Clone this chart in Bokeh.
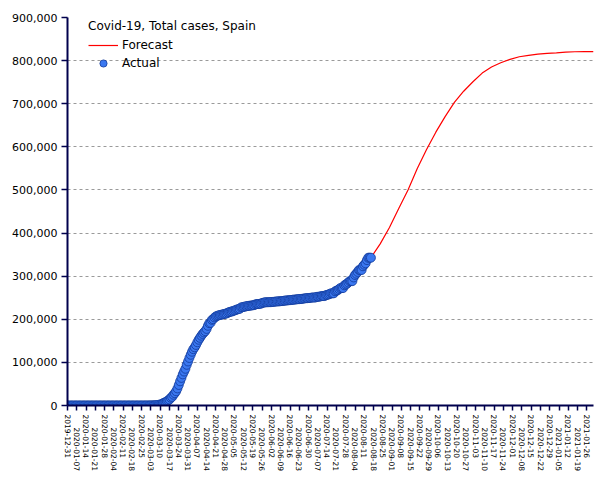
import pandas as pd
from bokeh.plotting import figure
from bokeh.models import (Range1d, FixedTicker, NumeralTickFormatter, Legend, LegendItem,
                          DatetimeAxis)
from bokeh.embed import file_html
from bokeh.resources import INLINE

# ---------------- data ----------------
actual_start = "2019-12-31"
actual_cases = [
    0,
    # January
    0, 0, 0, 0, 0, 0, 0, 0, 0, 0, 0, 0, 0, 0, 0, 0, 0, 0, 0, 0, 0, 0, 0, 0, 0, 0, 0, 0, 0, 0, 0,
    # February
    1, 1, 1, 1, 1, 1, 1, 1, 1, 2, 2, 2, 2, 2, 2, 2, 2, 2, 2, 2, 2, 2, 2, 6, 13, 15, 32, 45, 84,
    # March
    120, 165, 222, 259, 400, 500, 673, 1073, 1695, 2277, 3146, 5232, 6391, 7798, 9942,
    11748, 13910, 17963, 19980, 24926, 28572, 33089, 39673, 47610, 56188, 64059, 72248,
    78797, 85195, 94417, 102136,
    # April
    110238, 117710, 124736, 130759, 135032, 140510, 146690, 152446, 157022, 161852,
    166019, 169496, 172541, 177644, 184948, 190839, 191726, 198674, 200210, 204178,
    206500, 208000, 209000, 209800, 210500, 211300, 212000, 212917, 213435, 215216,
    # May
    216582, 217466, 218011, 219329, 220325, 221447, 222857, 223578, 224350, 227436,
    228030, 228691, 229540, 230183, 230698, 231350, 231606, 232037, 232555, 233037,
    234824, 235290, 235400, 235772, 236259, 237906, 238564, 239228, 239479, 239520, 239580,
    # June
    239638, 239932, 240326, 240660, 240978, 241310, 241550, 241717, 241966, 242280,
    242707, 243209, 243605, 243928, 244109, 244328, 244683, 245268, 245575, 245938,
    246272, 246504, 246752, 247086, 247486, 247905, 248469, 248770, 248970, 249271,
    # July
    249659, 250103, 250545, 250545, 250545, 251789, 252130, 252513, 253056, 253908,
    253908, 253908, 255953, 256619, 257494, 258855, 260255, 260255, 260255, 264836,
    266194, 267551, 270166, 272421, 272421, 272421, 278782, 280610, 282641, 285430, 288522,
    # August
    288522, 288522, 297054, 302814, 305767, 309855, 314362, 314362, 314362, 322980,
    326612, 329784, 337334, 342813, 342813, 342813,
]

forecast_dates = [
    "2020-08-16", "2020-08-23", "2020-08-30", "2020-09-06", "2020-09-13", "2020-09-20",
    "2020-09-27", "2020-10-04", "2020-10-11", "2020-10-18", "2020-10-25", "2020-11-01",
    "2020-11-08", "2020-11-15", "2020-11-22", "2020-11-29", "2020-12-06", "2020-12-13",
    "2020-12-20", "2020-12-27", "2021-01-03", "2021-01-10", "2021-01-17", "2021-01-24",
    "2021-01-31",
]
forecast_cases = [
    342813, 375000, 413000, 457000, 500000, 550000,
    594000, 634000, 670000, 703000, 729000, 751000,
    771000, 785000, 795000, 803000, 809000, 812000,
    815000, 817000, 818000, 819500, 820500, 821000,
    821000,
]

tick_first = "2019-12-31"
tick_last = "2021-01-26"
y_ticks = [0, 100000, 200000, 300000, 400000, 500000, 600000, 700000, 800000, 900000]

title_text = "Covid-19, Total cases, Spain"
series_names = ["Forecast", "Actual"]

# ---------------- derived ----------------
actual_dates = pd.date_range(actual_start, periods=len(actual_cases), freq="D")
fc_dates = pd.to_datetime(forecast_dates)
tick_dates = pd.date_range(tick_first, tick_last, freq="7D")
tick_labels = [d.strftime("%Y-%m-%d") for d in tick_dates]
tick_ms = [int(d.value // 10**6) for d in tick_dates]
odd_ms = tick_ms[1::2]

NAVY = "#00004d"
FONT = "DejaVu Sans"
XFONT = "7.5px"

p = figure(
    width=605, height=480,
    x_axis_type="datetime",
    x_range=Range1d(pd.Timestamp("2019-12-31"), pd.Timestamp("2021-01-31")),
    y_range=Range1d(0, 900000),
    output_backend="svg", toolbar_location=None,
    min_border_left=67, min_border_right=12, min_border_top=17, min_border_bottom=75,
)
p.outline_line_color = None
p.background_fill_color = "white"
p.border_fill_color = "white"

# grid
p.xgrid.visible = False
p.ygrid.grid_line_color = "#9a9a9a"
p.ygrid.grid_line_dash = "3 3"
p.ygrid.grid_line_width = 1
p.ygrid.ticker = FixedTicker(ticks=y_ticks)

# axes
for ax in (p.xaxis[0], p.yaxis[0]):
    ax.axis_line_color = NAVY
    ax.axis_line_width = 2
    ax.major_tick_line_color = NAVY
    ax.major_tick_line_width = 1.5
    ax.major_tick_in = 0
    ax.minor_tick_line_color = None
    ax.major_label_text_color = "black"
    ax.major_label_text_font = FONT

p.yaxis[0].ticker = FixedTicker(ticks=y_ticks)
p.yaxis[0].formatter = NumeralTickFormatter(format="0,0")
p.yaxis[0].major_tick_out = 6
p.yaxis[0].major_label_standoff = 4
p.yaxis[0].major_label_text_font_size = "11px"

# main x axis: all ticks, labels on every other tick
xa = p.xaxis[0]
xa.ticker = FixedTicker(ticks=tick_ms)
xa.major_tick_out = 5
xa.major_label_standoff = 4
xa.major_label_text_font_size = XFONT
xa.major_label_orientation = "vertical"
xa.major_label_overrides = {ms: (lab if i % 2 == 0 else "")
                            for i, (ms, lab) in enumerate(zip(tick_ms, tick_labels))}

# second (staggered) label row for the remaining ticks
xb = DatetimeAxis(
    ticker=FixedTicker(ticks=odd_ms),
    axis_line_color=None, major_tick_line_color=None, minor_tick_line_color=None,
    major_tick_in=0, major_tick_out=0, minor_tick_in=0, minor_tick_out=0,
    major_label_standoff=-34,
    major_label_text_font_size=XFONT, major_label_text_font=FONT,
    major_label_text_color="black",
    major_label_orientation="vertical",
    major_label_overrides={ms: lab for i, (ms, lab) in enumerate(zip(tick_ms, tick_labels)) if i % 2 == 1},
)
p.add_layout(xb, "below")

# glyphs
line_r = p.line(fc_dates, forecast_cases, line_color="#ff0000", line_width=1.2)
pts_r = p.scatter(actual_dates, actual_cases, size=9, marker="circle",
                  fill_color="#3b78f0", line_color="#123a9a", line_width=0.8)

legend = Legend(
    items=[LegendItem(label=series_names[0], renderers=[line_r]),
           LegendItem(label=series_names[1], renderers=[pts_r])],
    title=title_text,
    location=(21, 333),
    padding=0, margin=0, spacing=0,
    glyph_height=18, label_height=18, glyph_width=30,
    label_standoff=4, title_standoff=3,
    background_fill_alpha=0, border_line_alpha=0,
    title_text_font_style="normal", title_text_font_size="12px", title_text_font=FONT,
    label_text_font_size="12px", label_text_font=FONT,
    title_text_color="black", label_text_color="black",
)
p.add_layout(legend)

open("out.html", "w").write(file_html(p, INLINE))
